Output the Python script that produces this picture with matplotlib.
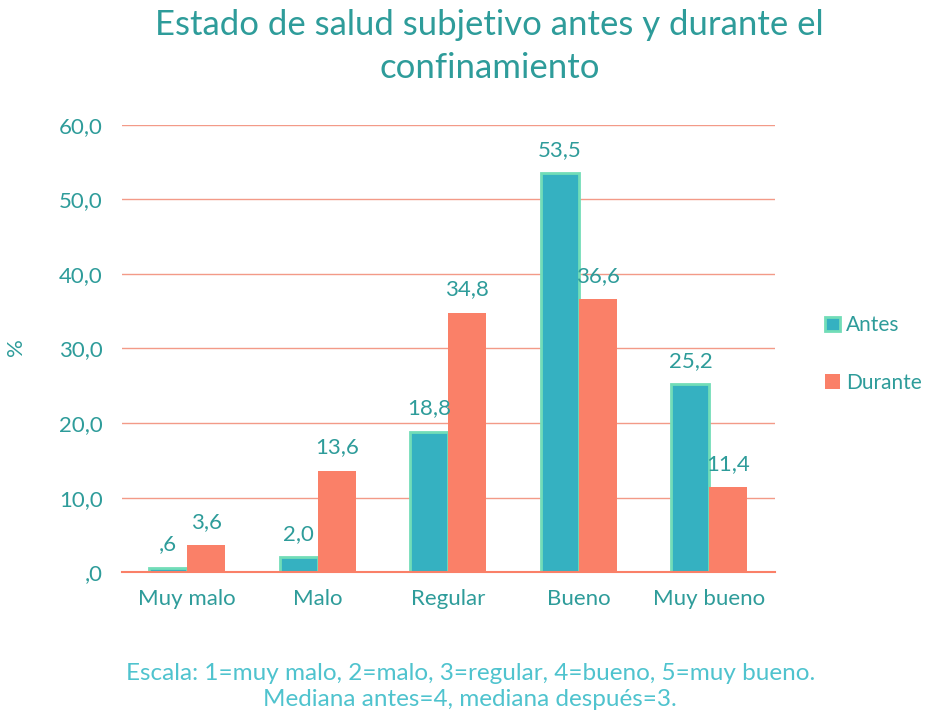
import matplotlib.pyplot as plt
import numpy as np

plt.rcParams['font.family'] = ['Lato', 'DejaVu Sans']

categorias = ['Muy malo', 'Malo', 'Regular', 'Bueno', 'Muy bueno']
antes = [0.6, 2.0, 18.8, 53.5, 25.2]
durante = [3.6, 13.6, 34.8, 36.6, 11.4]
etiquetas_antes = [',6', '2,0', '18,8', '53,5', '25,2']
etiquetas_durante = ['3,6', '13,6', '34,8', '36,6', '11,4']
yticks = [0, 10, 20, 30, 40, 50, 60]
ytick_labels = [',0', '10,0', '20,0', '30,0', '40,0', '50,0', '60,0']

teal_txt = '#2E9C9A'
c_antes = '#35B1C1'
c_edge = '#72DDB8'
c_durante = '#FA8068'
c_grid = '#F39A88'

fig = plt.figure(figsize=(9.31, 7.17), dpi=100)
ax = fig.add_axes([0.131, 0.202, 0.701, 0.624])

x = np.arange(len(categorias))
w = 0.29
b1 = ax.bar(x - w / 2, antes, w, color=c_antes, edgecolor=c_edge, linewidth=2, label='Antes', zorder=3)
b2 = ax.bar(x + w / 2, durante, w, color=c_durante, edgecolor=c_durante, linewidth=0, label='Durante', zorder=3)

for xi, v, t in zip(x, antes, etiquetas_antes):
    ax.text(xi - w / 2, v + 1.8, t, ha='center', va='bottom', color=teal_txt, fontsize=16)
for xi, v, t in zip(x, durante, etiquetas_durante):
    ax.text(xi + w / 2, v + 1.8, t, ha='center', va='bottom', color=teal_txt, fontsize=16)

ax.set_xlim(-0.5, 4.5)
ax.set_ylim(0, 60)
ax.set_yticks(yticks)
ax.set_yticklabels(ytick_labels)
ax.set_xticks(x)
ax.set_xticklabels(categorias)
ax.tick_params(axis='both', length=0, colors=teal_txt, labelsize=16)
ax.tick_params(axis='y', pad=14)
ax.tick_params(axis='x', pad=12)
ax.yaxis.grid(True, color=c_grid, linewidth=1, zorder=0)
for s in ['top', 'right', 'left']:
    ax.spines[s].set_visible(False)
ax.spines['bottom'].set_color(c_durante)
ax.spines['bottom'].set_linewidth(1.5)
ax.spines['bottom'].set_zorder(4)

fig.text(0.017, 0.516, '%', rotation=90, ha='center', va='center', color=teal_txt, fontsize=16)

fig.text(0.526, 0.988, 'Estado de salud subjetivo antes y durante el\nconfinamiento',
         ha='center', va='top', color=teal_txt, fontsize=25, linespacing=1.45)

fig.legend(handles=[b1, b2], loc='center left', bbox_to_anchor=(0.873, 0.506),
           frameon=False, fontsize=15, labelcolor=teal_txt, handlelength=0.7,
           handleheight=0.7, handletextpad=0.3, labelspacing=1.8,
           borderaxespad=0.2)

fig.text(0.505, 0.042, 'Escala: 1=muy malo, 2=malo, 3=regular, 4=bueno, 5=muy bueno.\nMediana antes=4, mediana después=3.',
         ha='center', va='center', color='#4FC3CE', fontsize=17.5, linespacing=1.3)

fig.savefig('out.png', dpi=100)
